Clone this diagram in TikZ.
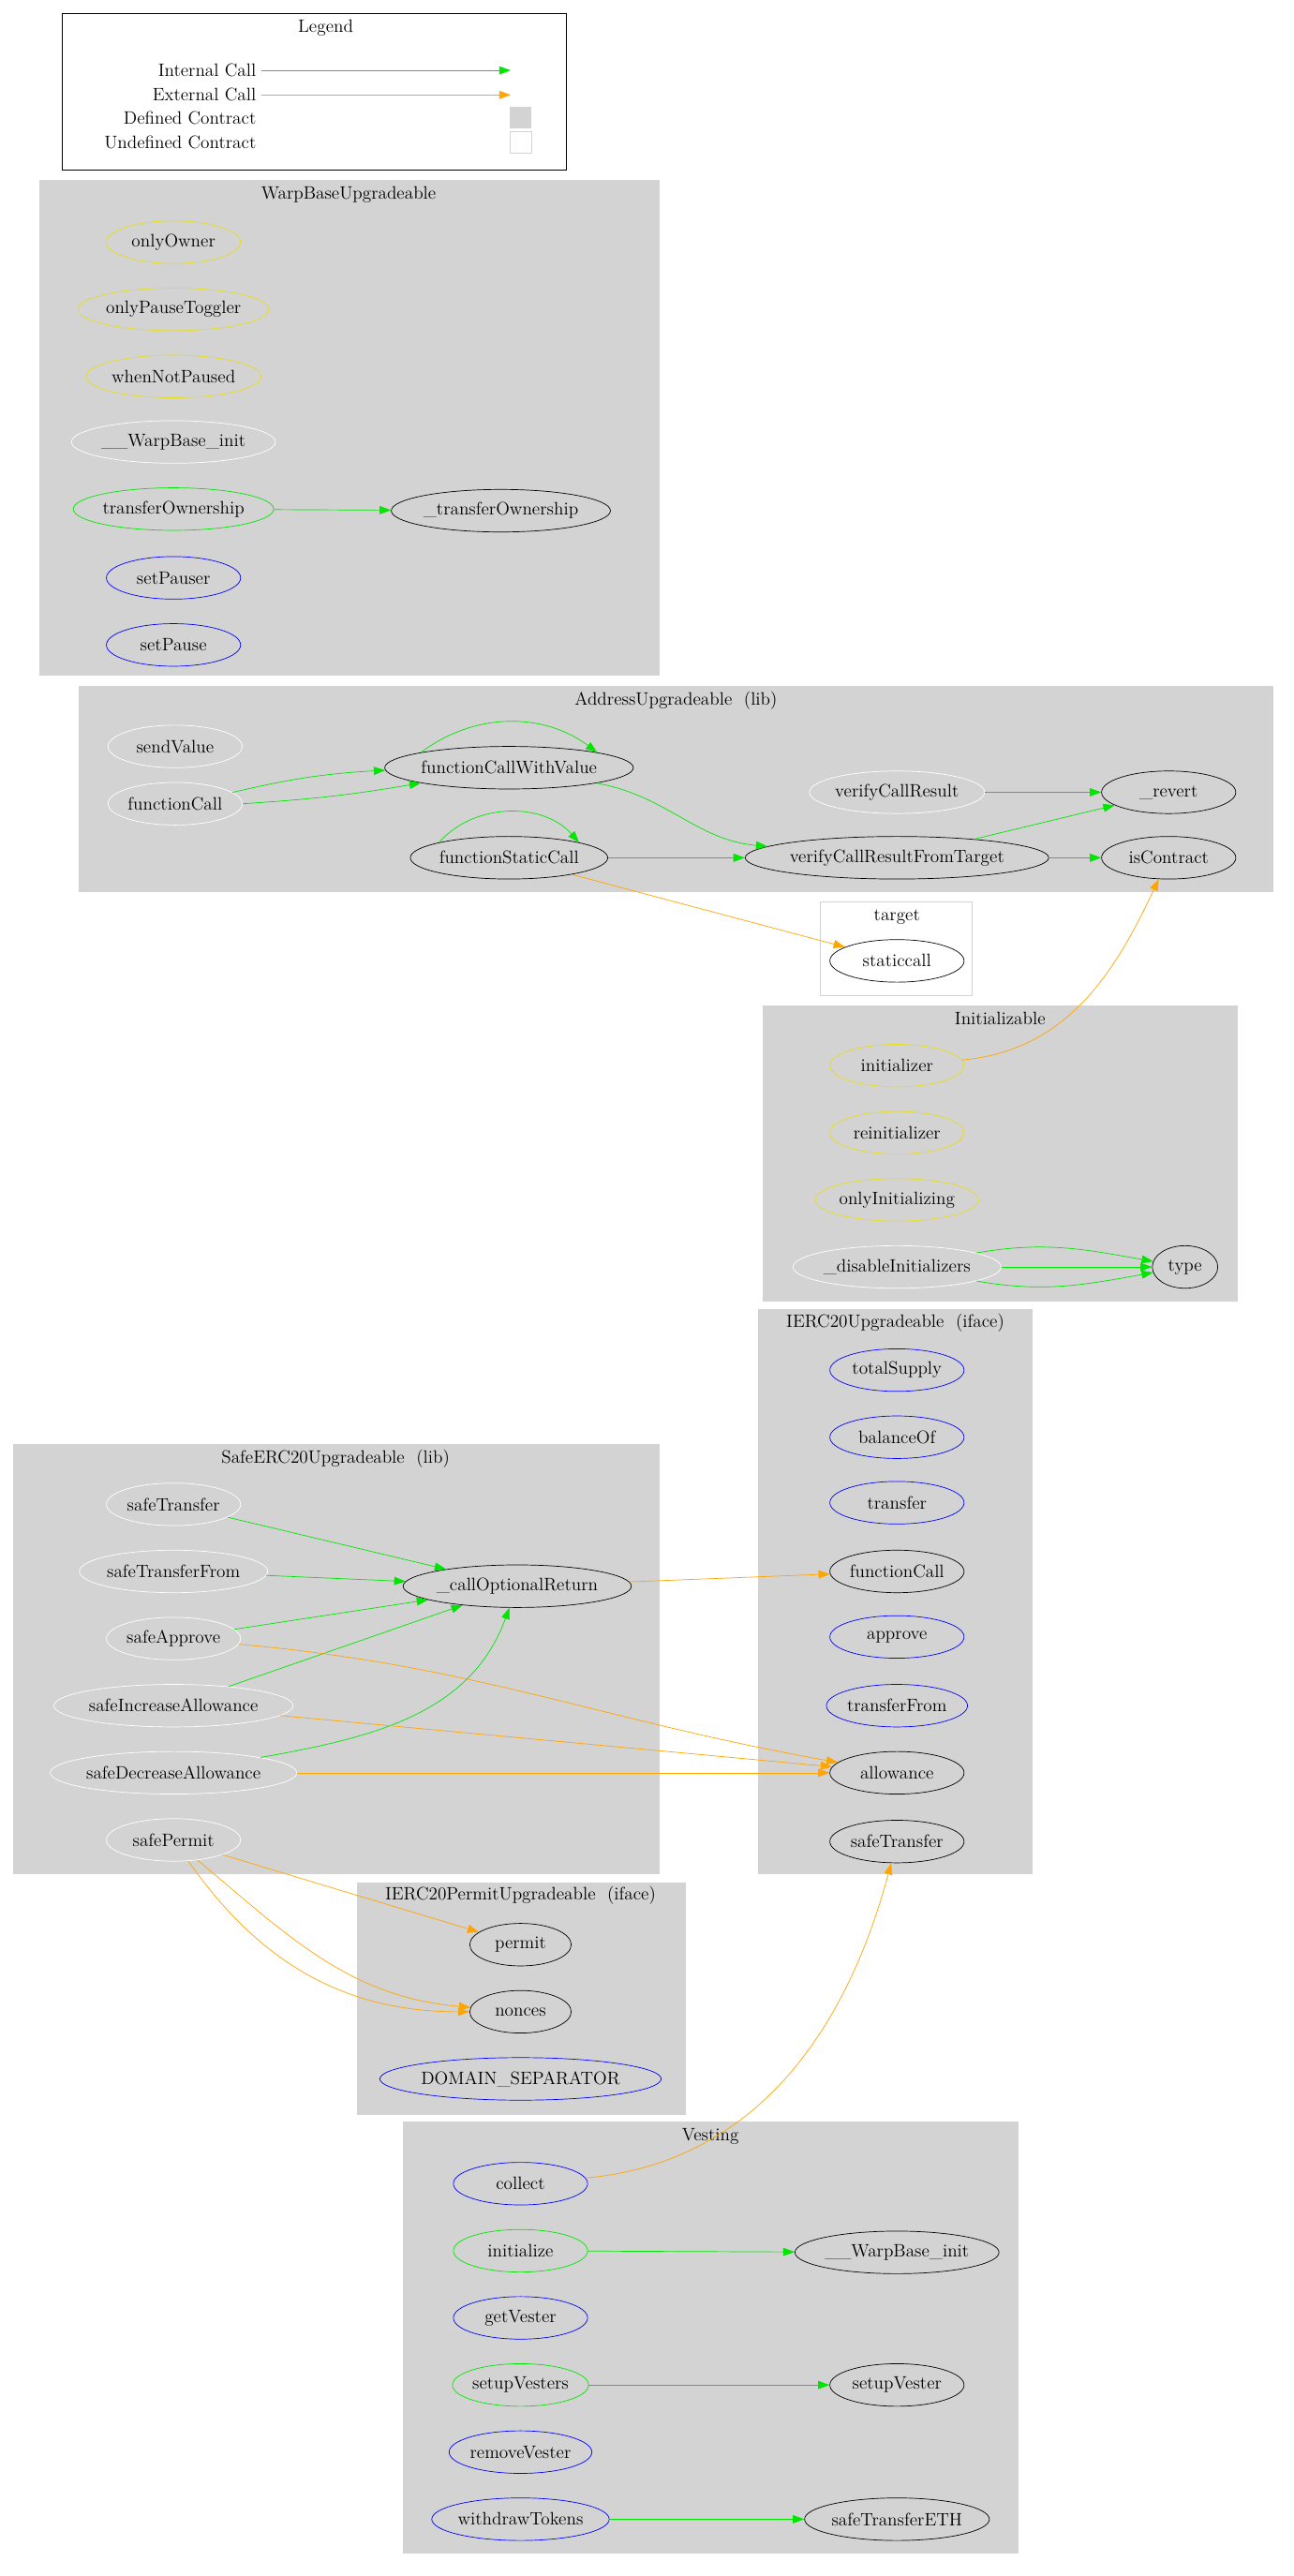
\documentclass[tikz,border=0pt]{standalone}
\usetikzlibrary{shapes.geometric,arrows.meta}
\definecolor{cl}{RGB}{211,211,211}
\definecolor{gr}{RGB}{0,230,0}
\definecolor{og}{RGB}{255,165,0}
\begin{document}
\begin{tikzpicture}[x=1pt,y=-1pt,font=\fontsize{11}{13}\selectfont,
 fn/.style={ellipse,draw,inner xsep=0pt,inner ysep=0pt,minimum height=26pt,minimum width=82pt},
 wn/.style={fn,draw=white}, yn/.style={fn,draw=yellow!90!black}, bn/.style={fn,draw=blue},
 gn/.style={fn,draw=gr}, kn/.style={fn,draw=black},
 clu/.style={fill=cl,draw=none},
 ic/.style={draw=gr,-{Triangle[length=7pt,width=5pt]}},
 ec/.style={draw=og,-{Triangle[length=7pt,width=5pt]}}]
\useasboundingbox[fill=white] (0,0) rectangle (790,1573.7);
% Legend
\draw (38,8) rectangle (346,104);
\node (lt) at (199,17) {Legend};
\node[anchor=east] (l1) at (160,43) {Internal Call};
\node[anchor=east] (l2) at (160,58) {External Call};
\node[anchor=east] (l3) at (160,72) {Defined Contract};
\node[anchor=east] (l4) at (160,87) {Undefined Contract};
\coordinate (l1e) at (312,43); \coordinate (l2e) at (312,58);
\draw[ic] (l1) -- (l1e); \draw[ec] (l2) -- (l2e);
\node[fill=cl,minimum size=13pt,inner sep=0] (dc) at (318,72) {};
\node[draw=cl,minimum size=13pt,inner sep=0] (uc) at (318,87) {};
% clusters
\fill[clu] (24,110) rectangle (403,413); \node at (213,119) {WarpBaseUpgradeable};
\fill[clu] (48,419) rectangle (778,545); \node at (413,428) {AddressUpgradeable\ \ (lib)};
\draw[cl] (501,551) rectangle (594,608); \node at (548,560) {target};
\fill[clu] (466,614) rectangle (756,795); \node at (611,622) {Initializable};
\fill[clu] (463,800) rectangle (631,1145); \node at (547,808) {IERC20Upgradeable\ \ (iface)};
\fill[clu] (8,882) rectangle (403,1145); \node at (205,891) {SafeERC20Upgradeable\ \ (lib)};
\fill[clu] (218,1150) rectangle (419,1292); \node at (318,1158) {IERC20PermitUpgradeable\ \ (iface)};
\fill[clu] (246,1296) rectangle (622,1560); \node at (434,1305) {Vesting};
% Warp
\node[yn] (oo) at (106,148) {onlyOwner};
\node[yn] (opt) at (106,189) {onlyPauseToggler};
\node[yn] (wnp) at (106,230) {whenNotPaused};
\node[wn] (wbi) at (106,270) {\_\_WarpBase\_init};
\node[gn] (to) at (106,311) {transferOwnership};
\node[kn] (_to) at (306,312) {\_transferOwnership};
\node[bn] (spr) at (106,353) {setPauser};
\node[bn] (sp) at (106,394) {setPause};
% Address
\node[wn] (sv) at (107,456) {sendValue};
\node[wn] (fc) at (107,491) {functionCall};
\node[kn] (fcv) at (311,469) {functionCallWithValue};
\node[kn] (fsc) at (311,524) {functionStaticCall};
\node[wn] (vcr) at (548,484) {verifyCallResult};
\node[kn] (vcrt) at (548,524) {verifyCallResultFromTarget};
\node[kn] (rv) at (714,484) {\_revert};
\node[kn] (ic) at (714,524) {isContract};
\node[kn,fill=white] (stc) at (548,587) {staticcall};
% Initializable
\node[yn] (ini) at (548,651) {initializer};
\node[yn] (rei) at (548,692) {reinitializer};
\node[yn] (oin) at (548,733) {onlyInitializing};
\node[wn] (dis) at (548,774) {\_disableInitializers};
\node[kn,minimum width=40pt] (ty) at (724,774) {type};
% IERC20
\node[bn] (ts) at (548,837) {totalSupply};
\node[bn] (bo) at (548,878) {balanceOf};
\node[bn] (tr) at (548,918) {transfer};
\node[kn] (ifc) at (548,960) {functionCall};
\node[bn] (ap) at (548,1000) {approve};
\node[bn] (tf) at (548,1042) {transferFrom};
\node[kn] (al) at (548,1083) {allowance};
\node[kn] (st) at (548,1125) {safeTransfer};
% SafeERC20
\node[wn] (s1) at (106,919) {safeTransfer};
\node[wn] (s2) at (106,960) {safeTransferFrom};
\node[wn] (s3) at (106,1001) {safeApprove};
\node[wn] (s4) at (106,1042) {safeIncreaseAllowance};
\node[wn] (s5) at (106,1083) {safeDecreaseAllowance};
\node[wn] (s6) at (106,1124) {safePermit};
\node[kn] (cor) at (316,969) {\_callOptionalReturn};
% Permit
\node[kn,minimum width=62pt] (pm) at (318,1188) {permit};
\node[kn,minimum width=62pt] (nc) at (318,1229) {nonces};
\node[bn] (ds) at (318,1270) {DOMAIN\_SEPARATOR};
% Vesting
\node[bn] (col) at (318,1334) {collect};
\node[gn] (vin) at (318,1375) {initialize};
\node[kn] (vwb) at (548,1376) {\_\_WarpBase\_init};
\node[bn] (gv) at (318,1416) {getVester};
\node[gn] (svs) at (318,1457) {setupVesters};
\node[kn] (sv1) at (548,1457) {setupVester};
\node[bn] (rmv) at (318,1498) {removeVester};
\node[bn] (wt) at (318,1539) {withdrawTokens};
\node[kn] (ste) at (548,1539) {safeTransferETH};
% internal
\draw[ic] (to) -- (_to);
\draw[ic] (fc) to[bend left=5] (fcv);
\draw[ic] (fc.east) to[bend right=3] (fcv.south west);
\draw[ic] (fcv.north west) .. controls (290,435) and (332,435) .. (fcv.north east);
\draw[ic] (fcv) to[out=-10,in=175] (vcrt);
\draw[ic] (fsc.north west) .. controls (290,490) and (332,490) .. (fsc.north east);
\draw[ic] (fsc) -- (vcrt);
\draw[ic] (vcr) -- (rv);
\draw[ic] (vcrt) -- (rv);
\draw[ic] (vcrt) -- (ic);
\draw[ic] (dis) to[out=10,in=170] (ty);
\draw[ic] (dis) -- (ty);
\draw[ic] (dis) to[out=-10,in=190] (ty);
\draw[ic] (s1) -- (cor);
\draw[ic] (s2) -- (cor);
\draw[ic] (s3) -- (cor);
\draw[ic] (s4) -- (cor);
\draw[ic] (s5) to[out=10,in=-110] (cor);
\draw[ic] (vin) -- (vwb);
\draw[ic] (svs) -- (sv1);
\draw[ic] (wt) -- (ste);
% external
\draw[ec] (fsc) -- (stc);
\draw[ec] (ini) to[out=5,in=-115] (ic);
\draw[ec] (cor) -- (ifc);
\draw[ec] (s3) to[out=-5,in=170] (al);
\draw[ec] (s4) -- (al);
\draw[ec] (s5) -- (al);
\draw[ec] (s6) -- (pm);
\draw[ec] (s6) to[out=-55,in=180] (nc);
\draw[ec] (s6) to[out=-40,in=175] (nc);
\draw[ec] (col) to[out=5,in=-105] (st);
\end{tikzpicture}
\end{document}
